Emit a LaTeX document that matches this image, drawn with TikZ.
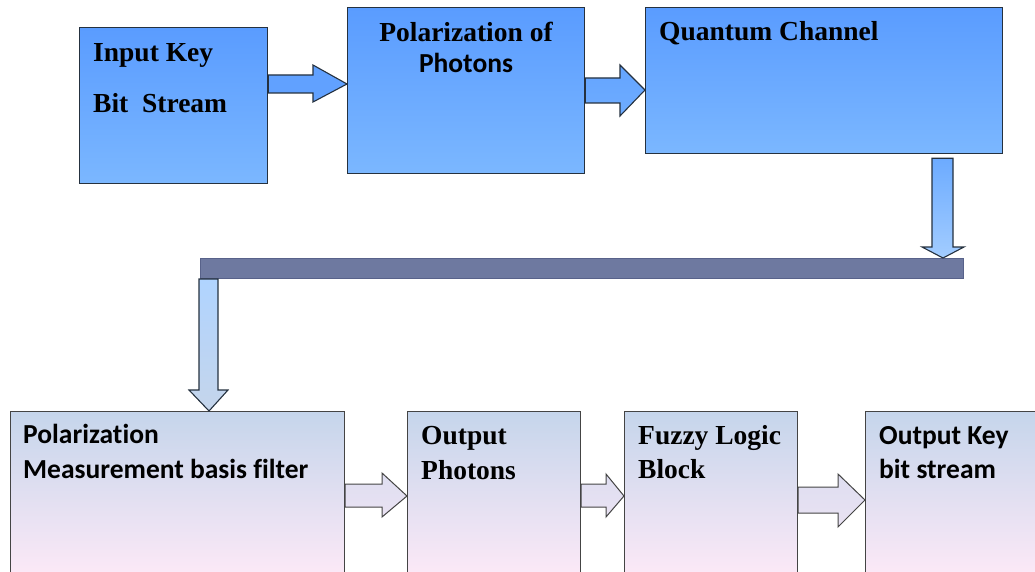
\documentclass[tikz,border=0pt]{standalone}
\usepackage{fontspec}
\setmainfont{Liberation Serif}
\newfontfamily\calibfont[Ligatures=NoCommon]{Carlito}
\usetikzlibrary{calc}

\definecolor{topA}{HTML}{5A9CFF}
\definecolor{topB}{HTML}{7BB7FF}
\definecolor{lowA}{HTML}{C5D5EB}
\definecolor{lowB}{HTML}{FDE9F7}
\definecolor{edgeD}{HTML}{25313F}
\definecolor{edgeL}{HTML}{444444}
\definecolor{barFill}{HTML}{6E79A0}
\definecolor{barEdge}{HTML}{58628A}

\tikzset{
  upperbox/.style={draw=edgeD, line width=1.3pt, top color=topA, bottom color=topB,
                   inner sep=0pt, anchor=north west},
  lowerbox/.style={draw=edgeL, line width=1.1pt, top color=lowA, bottom color=lowB,
                   inner sep=0pt, anchor=north west},
  rmlabel/.style={font=\fontsize{27.5}{33}\selectfont\bfseries, inner sep=0pt, anchor=base west},
  sflabel/.style={font=\fontsize{27.5}{33}\selectfont\calibfont\bfseries, inner sep=0pt, anchor=base west},
  upperarrow/.style={draw=edgeD, line width=1.1pt, line join=miter},
  lowerarrow/.style={draw=edgeL, line width=1pt, line join=miter,
                     top color=lowA!55!lowB, bottom color=lowA!35!lowB},
  barstyle/.style={draw=barEdge, line width=1pt, fill=barFill, inner sep=0pt, anchor=north west},
}

\begin{document}
\begin{tikzpicture}[x=1pt, y=-1pt]
\useasboundingbox (0,0) rectangle (1035,572);
\clip (0,0) rectangle (1035,572);

% upper row of blocks
\node[upperbox, minimum width=188pt, minimum height=156pt] (b1) at (79,27) {};
\node[upperbox, minimum width=237pt, minimum height=166pt] (b2) at (347,7) {};
\node[upperbox, minimum width=357pt, minimum height=146pt] (b3) at (645,7) {};

% horizontal bus bar
\node[barstyle, minimum width=763pt, minimum height=20pt] (bar) at (200,258) {};

% lower row of blocks (run past the lower edge)
\node[lowerbox, minimum width=334pt, minimum height=166pt] (b4) at (10,411) {};
\node[lowerbox, minimum width=173pt, minimum height=166pt] (b5) at (407,411) {};
\node[lowerbox, minimum width=173pt, minimum height=166pt] (b6) at (624,411) {};
\node[lowerbox, minimum width=190pt, minimum height=166pt] (b7) at (865,411) {};

% block arrows, upper row
\draw[upperarrow, fill=topA!80!topB]
  (b1.east |- 0,75) -- (313,75) -- (313,65) -- (b2.west |- 0,84)
  -- (313,102) -- (313,93) -- (b1.east |- 0,93) -- cycle;
\draw[upperarrow, top color=topA!70!topB, bottom color=topA!40!topB]
  (b2.east |- 0,78) -- (620,78) -- (620,65) -- (b3.west |- 0,90)
  -- (620,116) -- (620,103) -- (b2.east |- 0,103) -- cycle;

% down arrow from the channel to the bar
\draw[upperarrow, top color=topA!45!topB, bottom color=topB!70!white]
  ([yshift=-4pt]b3.south -| 932,0) -- (932,247) -- (922,247) -- (bar.north -| 943,0)
  -- (964,247) -- (953,247) -- ([yshift=-4pt]b3.south -| 953,0) -- cycle;

% down arrow from the bar to the measurement block
\draw[upperarrow, top color=topB!60!white, bottom color=lowA]
  (bar.south -| 199,0) -- (199,390) -- (189,390) -- (b4.north -| 209,0)
  -- (228,390) -- (218,390) -- (bar.south -| 218,0) -- cycle;

% block arrows, lower row
\draw[lowerarrow]
  (b4.east |- 0,484) -- (382,484) -- (382,473) -- (b5.west |- 0,496)
  -- (382,517) -- (382,507) -- (b4.east |- 0,507) -- cycle;
\draw[lowerarrow]
  (b5.east |- 0,484) -- (606,484) -- (606,474) -- (b6.west |- 0,496)
  -- (606,517) -- (606,507) -- (b5.east |- 0,507) -- cycle;
\draw[lowerarrow]
  (b6.east |- 0,487) -- (838,487) -- (838,474) -- (b7.west |- 0,500)
  -- (838,527) -- (838,513) -- (b6.east |- 0,513) -- cycle;

% labels
\node[rmlabel] (t1a) at (93,62) {Input Key};
\node[rmlabel] (t1b) at (93,113) {Bit\ \ Stream};
\node[rmlabel, anchor=base] (t2a) at (466,42) {Polarization of};
\node[sflabel, anchor=base] (t2b) at (466,73) {Photons};
\node[rmlabel] (t3) at (659,41) {Quantum Channel};
\node[sflabel] (t4a) at (23,443) {Polarization};
\node[sflabel] (t4b) at (23,478) {Measurement basis filter};
\node[rmlabel] (t5a) at (421,444) {Output};
\node[rmlabel] (t5b) at (421,479) {Photons};
\node[rmlabel] (t6a) at (638,444) {Fuzzy Logic};
\node[rmlabel] (t6b) at (638,478) {Block};
\node[sflabel] (t7a) at (879,444) {Output Key};
\node[sflabel] (t7b) at (879,478) {bit stream};
\end{tikzpicture}
\end{document}
